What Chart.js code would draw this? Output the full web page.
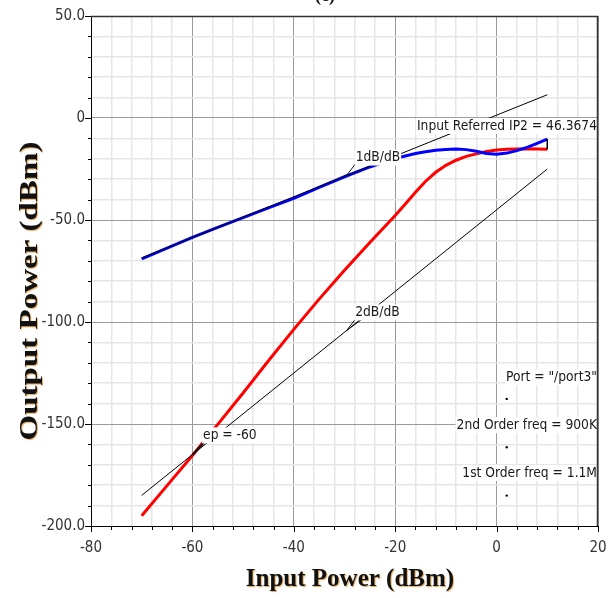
<!DOCTYPE html>
<html><head><meta charset="utf-8">
<script src="https://cdn.jsdelivr.net/npm/chart.js@4/dist/chart.umd.min.js"></script>
<style>html,body{margin:0;padding:0;background:#fff;}canvas{display:block;}</style>
</head><body>
<canvas id="c" width="614" height="598"></canvas>
<script>
// ---- data ----
const inputPower = [-70,-65,-60,-55,-50,-45,-40,-35,-30,-25,-20,-18,-16,-14,-12,-10,-8,-6,-4,-2,0,2,4,6,8,10];
const firstOrderOut = [-69.1,-63.8,-58.5,-53.6,-48.8,-44.1,-39.4,-34.0,-28.8,-24.0,-19.8,-18.6,-17.4,-16.5,-15.8,-15.4,-15.2,-15.5,-16.3,-17.4,-17.8,-17.2,-16.0,-14.4,-12.4,-10.3];
const secondOrderOut = [-195.0,-180.2,-165.4,-150.2,-134.8,-119.0,-103.6,-88.8,-74.6,-61.0,-47.8,-42.2,-36.4,-31.0,-26.6,-23.2,-20.7,-18.8,-17.6,-16.4,-15.7,-15.3,-15.2,-15.1,-15.2,-15.3];
const extrapX = [-70, 10];
const extrap1dB = [-68.6, 11.4];
const extrap2dB = [-185, -25];
const ip2MarkX = [10, 10];
const ip2MarkY = [-10.3, -15.3];
const dotX = [2, 2, 2];
const dotY = [-137.7, -161.4, -185.1];
const xMajorValues = [-80, -60, -40, -20, 0, 20];
const xTickLabels = ['-80', '-60', '-40', '-20', '0', '20'];
const yMajorValues = [50, 0, -50, -100, -150, -200];
const yTickLabels = ['50.0', '0', '-50.0', '-100.0', '-150.0', '-200.0'];
const xTitle = 'Input Power (dBm)';
const yTitle = 'Output Power (dBm)';
const chartTitle = '(c)';
const labelIP2 = 'Input Referred IP2 = 46.3674';
const label1dB = '1dB/dB';
const label2dB = '2dB/dB';
const labelEp = 'ep = -60';
const labelPort = 'Port = "/port3"';
const label2nd = '2nd Order freq = 900K';
const label1st = '1st Order freq = 1.1M';

const pts = (xs, ys) => xs.map((x, i) => ({x, y: ys[i]}));
const TICK_FAMILY = '"DejaVu Sans Condensed", "DejaVu Sans", sans-serif';
const ANN_FONT = '13.7px "DejaVu Sans Condensed", "DejaVu Sans", sans-serif';

function annLabel(ctx, text, x, y, align) {
  ctx.font = ANN_FONT;
  const w = ctx.measureText(text).width;
  const left = align === 'right' ? x - w : x;
  ctx.fillStyle = '#fff';
  ctx.fillRect(left - 1, y - 8, w + 2, 16);
  ctx.fillStyle = '#1a1a1a';
  ctx.textAlign = 'left';
  ctx.textBaseline = 'middle';
  ctx.fillText(text, left, y);
}
function seg(ctx, a, b, w) {
  ctx.beginPath();
  ctx.lineWidth = w || 1;
  ctx.moveTo(a[0], a[1]);
  ctx.lineTo(b[0], b[1]);
  ctx.stroke();
}

const decor = {
  id: 'decor',
  beforeDraw(chart) {
    const ctx = chart.ctx;
    ctx.save();
    ctx.fillStyle = '#fff';
    ctx.fillRect(0, 0, chart.width, chart.height);
    ctx.restore();
  },
  afterDatasetsDraw(chart) {
    const ctx = chart.ctx, xs = chart.scales.x, ys = chart.scales.y;
    const P = (x, y) => [xs.getPixelForValue(x), ys.getPixelForValue(y)];
    ctx.save();
    ctx.strokeStyle = '#111';
    // leader lines
    seg(ctx, P(-29.6, -28.2), P(-27.5, -21.4), 1);
    seg(ctx, P(-29.6, -104.2), P(-27.5, -97.5), 1);
    seg(ctx, P(-29.6, -104.2), P(-26.3, -98.2), 1);
    seg(ctx, P(-60, -165.2), P(-57.2, -157.6), 2);
    // labels with white boxes
    const a = P(-27.8, -19.4); annLabel(ctx, label1dB, a[0], a[1], 'left');
    const b = P(-27.9, -95.3); annLabel(ctx, label2dB, b[0], b[1], 'left');
    const c = P(-57.9, -155.6); annLabel(ctx, labelEp, c[0], c[1], 'left');
    const r = xs.getPixelForValue(20) - 1;
    annLabel(ctx, labelIP2, r, ys.getPixelForValue(-3.9), 'right');
    annLabel(ctx, labelPort, r, ys.getPixelForValue(-127), 'right');
    annLabel(ctx, label2nd, r, ys.getPixelForValue(-150.6), 'right');
    annLabel(ctx, label1st, r, ys.getPixelForValue(-174), 'right');
    ctx.restore();
  },
  afterDraw(chart) {
    const ctx = chart.ctx, xs = chart.scales.x, ys = chart.scales.y, ca = chart.chartArea;
    ctx.save();
    // frame top/right
    ctx.strokeStyle = '#333';
    ctx.lineWidth = 1.5;
    ctx.beginPath();
    ctx.moveTo(ca.left, ca.top + 0.5);
    ctx.lineTo(ca.right - 0.5, ca.top + 0.5);
    ctx.lineTo(ca.right - 0.5, ca.bottom);
    ctx.stroke();
    // axis ticks
    ctx.strokeStyle = '#000';
    ctx.lineWidth = 1;
    xs.ticks.forEach(t => {
      const p = Math.round(xs.getPixelForValue(t.value)) + 0.5;
      const len = (t.value % 20 === 0) ? 6 : 4;
      seg(ctx, [p, ca.bottom], [p, ca.bottom + len], 1);
    });
    ys.ticks.forEach(t => {
      const p = Math.round(ys.getPixelForValue(t.value)) + 0.5;
      const len = (t.value % 50 === 0) ? 6 : 3;
      seg(ctx, [ca.left - len, p], [ca.left, p], 1);
    });
    // titles
    ctx.fillStyle = '#111';
    ctx.shadowColor = 'rgba(215,140,40,0.75)';
    ctx.shadowOffsetX = 1; ctx.shadowOffsetY = 1; ctx.shadowBlur = 1;
    ctx.font = 'bold 25px "Liberation Serif", serif';
    ctx.textAlign = 'center'; ctx.textBaseline = 'alphabetic';
    ctx.fillText(xTitle, 350, 586);
    ctx.save();
    ctx.translate(37, 291);
    ctx.rotate(-Math.PI / 2);
    ctx.scale(1.27, 1);
    ctx.font = 'bold 26px "Liberation Serif", serif';
    ctx.fillText(yTitle, 0, 0);
    ctx.restore();
    ctx.shadowColor = 'transparent';
    ctx.font = 'bold 18px "Liberation Serif", serif';
    ctx.fillText(chartTitle, 325, 1);
    ctx.restore();
  }
};

new Chart(document.getElementById('c'), {
  type: 'scatter',
  data: {
    datasets: [
      { data: pts(extrapX, extrap1dB), showLine: true, borderColor: '#000', borderWidth: 1, pointRadius: 0, order: 0 },
      { data: pts(extrapX, extrap2dB), showLine: true, borderColor: '#000', borderWidth: 1, pointRadius: 0, order: 0 },
      { data: pts(ip2MarkX, ip2MarkY), showLine: true, borderColor: '#000', borderWidth: 1, pointRadius: 0, order: 0 },
      { data: pts(dotX, dotY), showLine: false, backgroundColor: '#000', borderColor: '#000', pointRadius: 1.2, borderWidth: 0, order: 0 },
      { data: pts(inputPower, firstOrderOut), showLine: true, borderColor: '#0000ff', borderWidth: 3, pointRadius: 0, order: 1 },
      { data: pts(inputPower, secondOrderOut), showLine: true, borderColor: '#ff0000', borderWidth: 3, pointRadius: 0, order: 2 }
    ]
  },
  options: {
    responsive: false,
    animation: false,
    devicePixelRatio: 1,
    layout: { autoPadding: false, padding: { left: 0, right: 16, top: 16, bottom: 0 } },
    plugins: { legend: { display: false }, tooltip: { enabled: false }, title: { display: false } },
    scales: {
      x: {
        type: 'linear', min: -80, max: 20,
        afterFit: s => { s.height = 72; s.paddingLeft = 0; s.paddingRight = 0; },
        ticks: {
          stepSize: 4, autoSkip: false, maxRotation: 0, padding: 13,
          color: '#333', font: { family: TICK_FAMILY, size: 15 },
          callback: v => { const i = xMajorValues.indexOf(v); return i >= 0 ? xTickLabels[i] : ''; }
        },
        grid: {
          drawTicks: false,
          lineWidth: c => (c.tick && c.tick.value % 20 === 0) ? 1 : 1.5,
          color: c => (c.tick && c.tick.value % 20 === 0) ? '#9a9a9a' : '#e6e6e6'
        },
        border: { display: true, color: '#000', width: 1 }
      },
      y: {
        type: 'linear', min: -200, max: 50,
        afterFit: s => { s.width = 91; s.paddingTop = 0; s.paddingBottom = 0; },
        ticks: {
          stepSize: 10, autoSkip: false, padding: 6,
          color: '#333', font: { family: TICK_FAMILY, size: 15 },
          callback: v => { const i = yMajorValues.indexOf(v); return i >= 0 ? yTickLabels[i] : ''; }
        },
        grid: {
          drawTicks: false,
          lineWidth: c => (c.tick && c.tick.value % 50 === 0) ? 1 : 1.5,
          color: c => (c.tick && c.tick.value % 50 === 0) ? '#9a9a9a' : '#e6e6e6'
        },
        border: { display: true, color: '#000', width: 1 }
      }
    }
  },
  plugins: [decor]
});
</script>
</body></html>
